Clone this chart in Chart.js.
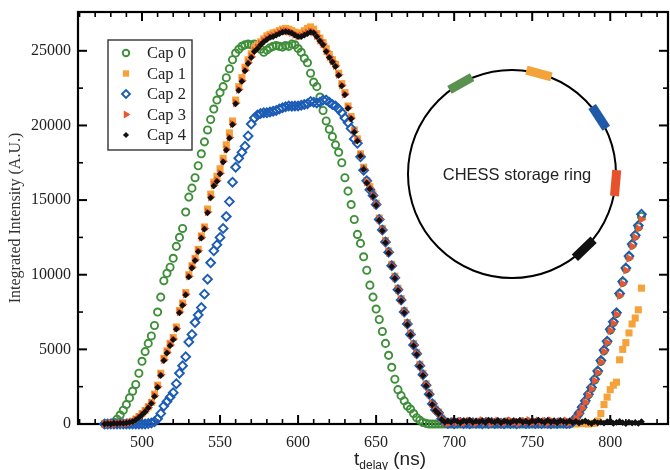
<!DOCTYPE html>
<html>
<head>
<meta charset="utf-8">
<script src="https://cdn.jsdelivr.net/npm/chart.js@4.4.1/dist/chart.umd.min.js"></script>
<style>
html, body { margin: 0; padding: 0; background: #fff; }
</style>
</head>
<body>
<canvas id="intensityChart" width="670" height="470"></canvas>
<script>
// delay times (ns), shared by all five capacitors
const tDelay = [
  476, 478, 480, 482, 484, 486, 488, 490, 492, 494,
  496, 498, 500, 502, 504, 506, 508, 510, 512, 514,
  516, 518, 520, 522, 524, 526, 528, 530, 532, 534,
  536, 538, 540, 542, 544, 546, 548, 550, 552, 554,
  556, 558, 560, 562, 564, 566, 568, 570, 572, 574,
  576, 578, 580, 582, 584, 586, 588, 590, 592, 594,
  596, 598, 600, 602, 604, 606, 608, 610, 612, 614,
  616, 618, 620, 622, 624, 626, 628, 630, 632, 634,
  636, 638, 640, 642, 644, 646, 648, 650, 652, 654,
  656, 658, 660, 662, 664, 666, 668, 670, 672, 674,
  676, 678, 680, 682, 684, 686, 688, 690, 692, 694,
  696, 698, 700, 702, 704, 706, 708, 710, 712, 714,
  716, 718, 720, 722, 724, 726, 728, 730, 732, 734,
  736, 738, 740, 742, 744, 746, 748, 750, 752, 754,
  756, 758, 760, 762, 764, 766, 768, 770, 772, 774,
  776, 778, 780, 782, 784, 786, 788, 790, 792, 794,
  796, 798, 800, 802, 804, 806, 808, 810, 812, 814,
  816, 818, 820
];

const cap0 = [
  0, 0, 20, 120, 320, 600, 920, 1300, 1750, 2200,
  2650, 3400, 4200, 4850, 5400, 5900, 6600, 7500, 8500, 9600,
  10100, 10500, 11100, 11900, 12500, 13100, 14200, 15200, 15800, 16500,
  17300, 18100, 18900, 19700, 20400, 21100, 21700, 22200, 22600, 23200,
  23800, 24400, 24850, 25100, 25300, 25400, 25450, 25400, 25450, 25300,
  25100, 24900, 25050, 25200, 25300, 25350, 25300, 25250, 25350, 25300,
  25450, 25400, 25150, 24900, 24500, 24200, 23500, 22900, 22600, 21900,
  21000, 20300, 19750, 19250, 18700, 18200, 17500, 16500, 15600, 14700,
  13700, 12700, 12100, 11200, 10300, 9300, 8500, 7700, 7000, 6200,
  5400, 4600, 3800, 3000, 2300, 1900, 1550, 1200, 1000, 700,
  420, 250, 100, 40, 0, 0, 0, 0, 0, 0,
  0, 0, 0, 0, 0, 0, 0, 0, 0, 0,
  0, 0, 0, 0, 0, 0, 0, 0, 0, 0,
  0, 0, 0, 0, 0, 0, 0, 0, 0, 0,
  0, 0, 0, 0, 0, 0, 0, 0, 0, 0,
  130, 400, 700, 1100, 1500, 1950, 2400, 2950, 3500, 4200,
  4900, 5500, 6300, 6800, 7400, 8700, 9500, 10400, 11200, 12000,
  12600, 13200, 13900
];

const cap1 = [
  0, 0, 0, 30, 0, 50, 20, 80, 120, 180,
  320, 500, 700, 900, 1150, 1450, 2000, 2600, 3400, 4400,
  4900, 5400, 5800, 6500, 7600, 8100, 8800, 10000, 10600, 11100,
  11700, 12600, 13200, 14400, 15400, 16200, 16600, 17100, 17800, 18700,
  19500, 20300, 21700, 22600, 23200, 23900, 24400, 24800, 25200, 25400,
  25600, 25800, 26000, 26100, 26200, 26250, 26350, 26450, 26500, 26450,
  26350, 26250, 26150, 26200, 26350, 26500, 26600, 26450, 26150, 25850,
  25550, 25150, 24750, 24400, 24100, 23500, 22800, 22200, 21300, 20600,
  19700, 19100, 18100, 17200, 16300, 15900, 15400, 14800, 13800, 13100,
  12300, 11600, 10700, 9900, 9100, 8400, 7600, 6800, 6100, 5400,
  4800, 4000, 3400, 2700, 2100, 1400, 1000, 800, 400, 180,
  80, 40, 120, 60, 150, 30, 90, 140, 70, 20,
  110, 60, 130, 40, 90, 150, 50, 100, 30, 120,
  70, 140, 40, 100, 60, 130, 20, 90, 150, 50,
  80, 30, 120, 60, 100, 40, 130, 70, 20, 90,
  30, 0, 50, 20, 60, 0, 40, 50, 200, 700,
  1300, 1800, 2300, 2600, 2800, 4300, 5000, 5450, 6100, 6700,
  7100, 7650, 9100
];

const cap2 = [
  0, 0, 0, 0, 0, 0, 0, 0, 0, 0,
  0, 0, 0, 0, 30, 60, 150, 350, 700, 1200,
  1500, 1800, 2100, 2700, 3400, 3900, 4500, 5500, 6000, 6800,
  7300, 7800, 8700, 9700, 10800, 11600, 12000, 12500, 13100, 13900,
  14900, 16200, 17200, 17800, 18200, 18600, 19300, 20100, 20500, 20700,
  20800, 20850, 20850, 20900, 20950, 21000, 21100, 21180, 21250, 21300,
  21290, 21300, 21300, 21350, 21400, 21450, 21600, 21550, 21500, 21550,
  21700, 21700, 21550, 21400, 21300, 21100, 20850, 20500, 20200, 19800,
  19100, 18800, 17900, 17000, 16300, 15700, 15300, 14700, 13700, 13000,
  12200, 11500, 10600, 9800, 9000, 8300, 7500, 6700, 6000, 5300,
  4700, 3900, 3300, 2600, 2000, 1350, 950, 750, 350, 150,
  40, 80, 20, 60, 100, 30, 70, 10, 90, 50,
  60, 20, 80, 40, 100, 30, 70, 50, 20, 90,
  40, 70, 20, 60, 90, 30, 50, 80, 40, 60,
  30, 80, 50, 20, 70, 40, 90, 60, 30, 50,
  140, 420, 720, 1120, 1550, 2000, 2450, 3000, 3550, 4250,
  4950, 5550, 6350, 6850, 7450, 8750, 9550, 10450, 11250, 12050,
  12650, 13300, 14050
];

const cap3 = [
  0, 0, 60, 0, 40, 80, 30, 60, 100, 150,
  300, 450, 650, 850, 1100, 1400, 1900, 2500, 3300, 4300,
  4800, 5300, 5700, 6400, 7500, 8000, 8700, 9900, 10500, 11000,
  11600, 12500, 13100, 14200, 15200, 16000, 16300, 16800, 17600, 18400,
  19200, 20100, 21500, 22400, 23000, 23700, 24200, 24600, 25000, 25200,
  25450, 25650, 25800, 25950, 26000, 26100, 26200, 26300, 26320, 26300,
  26220, 26100, 26000, 26000, 26100, 26200, 26300, 26250, 26000, 25700,
  25450, 25000, 24600, 24300, 24000, 23400, 22700, 22100, 21200, 20500,
  19600, 19000, 18000, 17100, 16200, 15800, 15300, 14700, 13700, 13000,
  12200, 11500, 10600, 9800, 9000, 8300, 7500, 6700, 6000, 5300,
  4700, 3900, 3300, 2600, 2000, 1350, 950, 750, 350, 150,
  60, 100, 180, 120, 200, 90, 160, 220, 130, 80,
  170, 240, 110, 190, 60, 150, 210, 130, 90, 180,
  230, 120, 170, 80, 200, 140, 250, 100, 160, 210,
  120, 190, 70, 230, 150, 100, 180, 140, 220, 90,
  150, 380, 680, 1050, 1450, 1900, 2350, 2900, 3450, 4150,
  4850, 5450, 6250, 6750, 7350, 8600, 9400, 10300, 11100, 11900,
  12500, 13100, 13700
];

const cap4 = [
  0, 30, 0, 50, 20, 60, 40, 70, 110, 160,
  280, 430, 620, 820, 1080, 1380, 1850, 2450, 3250, 4250,
  4750, 5250, 5650, 6350, 7450, 7950, 8650, 9850, 10450, 10950,
  11550, 12450, 13050, 14150, 15150, 15950, 16250, 16750, 17550, 18350,
  19150, 20050, 21450, 22350, 22950, 23650, 24150, 24550, 24950, 25150,
  25400, 25600, 25750, 25900, 25950, 26050, 26150, 26250, 26280, 26250,
  26180, 26050, 25950, 25950, 26050, 26150, 26250, 26200, 25950, 25650,
  25400, 24950, 24550, 24250, 23950, 23350, 22650, 22050, 21150, 20450,
  19550, 18950, 17950, 17050, 16150, 15750, 15250, 14650, 13650, 12950,
  12150, 11450, 10550, 9750, 8950, 8250, 7450, 6650, 5950, 5250,
  4650, 3850, 3250, 2550, 1950, 1300, 900, 700, 300, 120,
  200, 120, 250, 180, 90, 230, 150, 260, 110, 190,
  140, 220, 90, 260, 170, 120, 240, 80, 200, 150,
  100, 210, 160, 240, 120, 190, 90, 230, 140, 260,
  170, 110, 250, 130, 200, 80, 230, 160, 120, 210,
  90, 180, 60, 140, 200, 100, 30, 160, 80, 120,
  60, 150, 200, 40, 110, 170, 90, 20, 130, 60,
  100, 40, 150
];

const seriesNames = ['Cap 0', 'Cap 1', 'Cap 2', 'Cap 3', 'Cap 4'];
const seriesValues = [cap0, cap1, cap2, cap3, cap4];

const xTicks = [500, 550, 600, 650, 700, 750, 800];
const xMinorTicks = [460, 470, 480, 490, 510, 520, 530, 540, 560, 570, 580, 590, 610, 620, 630, 640,
  660, 670, 680, 690, 710, 720, 730, 740, 760, 770, 780, 790, 810, 820, 830];
const yTicks = [0, 5000, 10000, 15000, 20000, 25000];
const yMinorTicks = [2500, 7500, 12500, 17500, 22500];

// marker look per capacitor
const markerStyles = [
  { pointStyle: 'circle', pointRadius: 3.6, pointBorderWidth: 1.9, pointBorderColor: '#3f8f3a', pointBackgroundColor: 'rgba(255,255,255,0)', pointRotation: 0 },
  { pointStyle: 'rect', pointRadius: 5, pointBorderWidth: 0, pointBorderColor: '#f6a23a', pointBackgroundColor: '#f6a23a', pointRotation: 0 },
  { pointStyle: 'rectRot', pointRadius: 4.4, pointBorderWidth: 1.9, pointBorderColor: '#1c5cb5', pointBackgroundColor: 'rgba(255,255,255,0)', pointRotation: 0 },
  { pointStyle: 'triangle', pointRadius: 5, pointBorderWidth: 0, pointBorderColor: '#ea5630', pointBackgroundColor: '#ea5630', pointRotation: 90 },
  { pointStyle: 'rectRot', pointRadius: 3.4, pointBorderWidth: 0, pointBorderColor: '#111', pointBackgroundColor: '#111', pointRotation: 0 }
];

const datasets = seriesNames.map((name, i) => Object.assign({
  label: name,
  data: tDelay.map((t, k) => ({ x: t, y: seriesValues[i][k] })),
  showLine: false,
  clip: false,
  order: seriesNames.length - i
}, markerStyles[i]));

// stretch the plot area to the right edge of the figure
const plotRight = 668;
const stretchRight = {
  id: 'stretchRight',
  afterLayout(chart) {
    const a = chart.chartArea, xs = chart.scales.x;
    a.right = plotRight;
    a.width = a.right - a.left;
    xs.right = plotRight;
    xs.width = plotRight - xs.left;
    xs.configure();
    xs._labelItems = null;
  }
};

// frame with inward ticks on all four sides
const frameTicks = {
  id: 'frameTicks',
  beforeDatasetsDraw(chart) {
    const ctx = chart.ctx, a = chart.chartArea;
    const xs = chart.scales.x, ys = chart.scales.y;
    ctx.save();
    ctx.strokeStyle = '#000';
    const tick = (x1, y1, x2, y2, w) => {
      ctx.lineWidth = w;
      ctx.beginPath(); ctx.moveTo(x1, y1); ctx.lineTo(x2, y2); ctx.stroke();
    };
    xTicks.forEach(v => {
      const p = xs.getPixelForValue(v);
      tick(p, a.bottom, p, a.bottom - 9, 2);
      tick(p, a.top, p, a.top + 9, 2);
    });
    xMinorTicks.forEach(v => {
      const p = xs.getPixelForValue(v);
      tick(p, a.bottom, p, a.bottom - 5, 1.6);
      tick(p, a.top, p, a.top + 5, 1.6);
    });
    yTicks.forEach(v => {
      const p = ys.getPixelForValue(v);
      tick(a.left, p, a.left + 9, p, 2);
      tick(a.right, p, a.right - 9, p, 2);
    });
    yMinorTicks.forEach(v => {
      const p = ys.getPixelForValue(v);
      tick(a.left, p, a.left + 5, p, 1.6);
      tick(a.right, p, a.right - 5, p, 1.6);
    });
    ctx.lineWidth = 2.2;
    ctx.strokeRect(a.left, a.top, a.right - a.left, a.bottom - a.top);
    ctx.restore();
  }
};

// boxed legend, storage ring inset and the subscripted x title
const overlays = {
  id: 'overlays',
  afterDraw(chart) {
    const ctx = chart.ctx, a = chart.chartArea;
    ctx.save();

    const lx = a.left + 30, ly = a.top + 28;
    ctx.fillStyle = '#fff';
    ctx.fillRect(lx, ly, 84, 110);
    ctx.strokeStyle = '#333';
    ctx.lineWidth = 1.4;
    ctx.strokeRect(lx, ly, 84, 110);
    chart.data.datasets.forEach((ds, i) => {
      const y = ly + 13 + i * 20.5;
      ctx.fillStyle = ds.pointBackgroundColor;
      ctx.strokeStyle = ds.pointBorderColor;
      ctx.lineWidth = ds.pointBorderWidth;
      Chart.helpers.drawPoint(ctx, {
        pointStyle: ds.pointStyle, radius: ds.pointRadius * 0.9,
        rotation: ds.pointRotation, borderWidth: ds.pointBorderWidth
      }, lx + 18, y);
      ctx.fillStyle = '#222';
      ctx.font = '16.5px "Liberation Serif"';
      ctx.textAlign = 'left';
      ctx.textBaseline = 'middle';
      ctx.fillText(ds.label, lx + 39, y + 1);
    });

    // storage ring
    const cx = a.left + 434, cy = a.top + 162, r = 104;
    ctx.strokeStyle = '#000';
    ctx.lineWidth = 2;
    ctx.beginPath(); ctx.arc(cx, cy, r, 0, Math.PI * 2); ctx.stroke();
    const marks = [
      { deg: 119.5, color: '#5b9150' },
      { deg: 75, color: '#f2a33a' },
      { deg: 33, color: '#1e5aa8' },
      { deg: -5, color: '#e5522c' },
      { deg: -46, color: '#111' }
    ];
    marks.forEach(m => {
      const rad = m.deg * Math.PI / 180;
      ctx.save();
      ctx.translate(cx + r * Math.cos(rad), cy - r * Math.sin(rad));
      ctx.rotate((90 - m.deg) * Math.PI / 180);
      ctx.fillStyle = m.color;
      ctx.fillRect(-13, -4.5, 26, 9);
      ctx.restore();
    });
    ctx.fillStyle = '#222';
    ctx.font = '16.5px "Liberation Sans"';
    ctx.textAlign = 'center';
    ctx.textBaseline = 'middle';
    ctx.fillText('CHESS storage ring', cx + 5, cy + 1);

    // x title: t_delay (ns)
    ctx.textAlign = 'left';
    ctx.textBaseline = 'alphabetic';
    const big = '19px "Liberation Sans"', small = '12px "Liberation Sans"';
    ctx.font = big;
    const wT = ctx.measureText('t').width;
    const wN = ctx.measureText(' (ns)').width;
    ctx.font = small;
    const wD = ctx.measureText('delay').width;
    let tx = (a.left + a.right) / 2 + 17 - (wT + wD + wN) / 2;
    const base = 465;
    ctx.font = big;
    ctx.fillText('t', tx, base);
    tx += wT;
    ctx.font = small;
    ctx.fillText('delay', tx, base + 4);
    tx += wD;
    ctx.font = big;
    ctx.fillText(' (ns)', tx, base);
    ctx.restore();
  }
};

const tickFont = { family: 'Liberation Serif', size: 16 };

new Chart(document.getElementById('intensityChart'), {
  type: 'scatter',
  data: { datasets: datasets },
  options: {
    responsive: false,
    devicePixelRatio: 1,
    animation: false,
    events: [],
    layout: { padding: { top: 12, right: 2, left: 0, bottom: 0 } },
    plugins: {
      legend: { display: false },
      tooltip: { enabled: false }
    },
    scales: {
      x: {
        type: 'linear',
        min: 459,
        max: 837,
        afterBuildTicks: s => { s.ticks = xTicks.map(v => ({ value: v })); },
        afterFit: s => { s.height = 46; s.paddingLeft = 0; s.paddingRight = 0; },
        ticks: { font: tickFont, color: '#222', padding: 9, maxRotation: 0, autoSkip: false, callback: v => String(v) },
        grid: { display: false, drawTicks: false },
        border: { display: false }
      },
      y: {
        type: 'linear',
        min: 0,
        max: 27600,
        afterBuildTicks: s => { s.ticks = yTicks.map(v => ({ value: v })); },
        afterFit: s => { s.width = 78; s.paddingTop = 0; s.paddingBottom = 0; },
        ticks: { font: tickFont, color: '#222', padding: 7, autoSkip: false, callback: v => String(v) },
        grid: { display: false, drawTicks: false },
        border: { display: false },
        title: {
          display: true,
          text: 'Integrated Intensity (A.U.)',
          font: { family: 'Liberation Serif', size: 16 },
          color: '#333',
          padding: { top: 6, bottom: 0 }
        }
      }
    }
  },
  plugins: [stretchRight, frameTicks, overlays]
});
</script>
</body>
</html>
